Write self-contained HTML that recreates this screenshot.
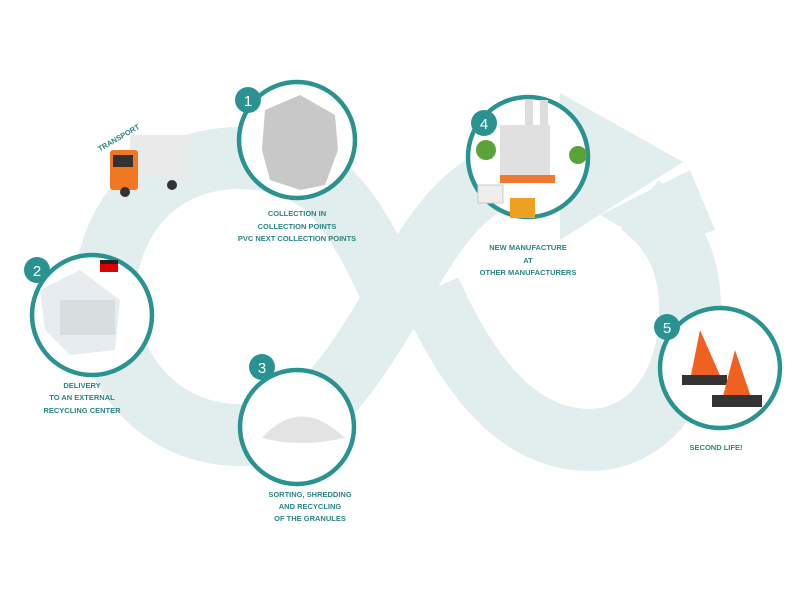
<!DOCTYPE html>
<html><head><meta charset="utf-8"><style>
body{margin:0;background:#fff;}
svg{display:block}
text{font-family:"Liberation Sans",sans-serif;font-size:7.5px;fill:#2a8583;text-anchor:middle;font-weight:bold}
.n{fill:#fff;font-size:15px;font-weight:normal}
</style></head><body>
<svg width="805" height="600" viewBox="0 0 805 600">
<g fill="none" stroke="#e2eded" stroke-width="62">
<path d="M395,300 C350,200 320,160 240,158 C150,158 105,230 105,295 C105,370 160,435 240,435 C310,435 340,390 395,300 C440,220 470,170 560,160"/>
<path d="M640,205 C680,235 690,270 690,310 C690,390 645,440 590,440 C520,440 470,380 430,290"/>
</g>
<polygon points="560,93 683,162 560,240" fill="#e2eded"/>
<polygon points="600,215 690,170 715,230 660,250" fill="#e2eded"/>
<g fill="#fff" stroke="#2a9391" stroke-width="4.5">
<circle cx="297" cy="140" r="58"/>
<circle cx="92" cy="315" r="60"/>
<circle cx="297" cy="427" r="57"/>
<circle cx="528" cy="157" r="60"/>
<circle cx="720" cy="368" r="60"/>
</g>
<path d="M265,110 L300,95 L335,115 L338,150 L325,185 L300,190 L270,180 L262,150 Z" fill="#c8c8c8"/>
<path d="M40,290 L80,270 L120,300 L115,350 L70,355 L45,330Z" fill="#e6ecf0"/>
<rect x="60" y="300" width="55" height="35" fill="#d8dde0"/><rect x="100" y="260" width="18" height="12" fill="#d00"/><rect x="100" y="260" width="18" height="4" fill="#222"/>
<path d="M262,438 Q300,395 345,438 Q300,448 262,438Z" fill="#e4e4e4"/>
<rect x="500" y="125" width="50" height="55" fill="#e0e0e0"/><rect x="500" y="175" width="55" height="8" fill="#f07830"/>
<rect x="525" y="100" width="8" height="25" fill="#ddd"/><rect x="540" y="100" width="8" height="25" fill="#ddd"/>
<circle cx="486" cy="150" r="10" fill="#5aa33a"/><circle cx="578" cy="155" r="9" fill="#5aa33a"/>
<rect x="510" y="198" width="25" height="20" fill="#f0a020"/><rect x="478" y="185" width="25" height="18" fill="#eee" stroke="#ccc"/>
<polygon points="700,330 690,380 722,380" fill="#f06020"/><rect x="682" y="375" width="45" height="10" fill="#333"/>
<polygon points="735,350 722,400 752,400" fill="#f06020"/><rect x="712" y="395" width="50" height="12" fill="#333"/>
<rect x="130" y="135" width="60" height="42" fill="#eaeaea"/><rect x="110" y="150" width="28" height="40" fill="#f07820" rx="3"/>
<rect x="113" y="155" width="20" height="12" fill="#333"/><circle cx="125" cy="192" r="5" fill="#333"/><circle cx="172" cy="185" r="5" fill="#333"/>
<g fill="#2a9391"><circle cx="248" cy="100" r="13"/><circle cx="37" cy="270" r="13"/><circle cx="262" cy="367" r="13"/><circle cx="484" cy="123" r="13"/><circle cx="667" cy="327" r="13"/></g>
<text class="n" x="248" y="106">1</text><text class="n" x="37" y="276">2</text><text class="n" x="262" y="373">3</text><text class="n" x="484" y="129">4</text><text class="n" x="667" y="333">5</text>
<text x="120" y="140" transform="rotate(-30 120 140)">TRANSPORT</text>
<text x="297" y="216">COLLECTION IN</text><text x="297" y="229">COLLECTION POINTS</text><text x="297" y="241">PVC NEXT COLLECTION POINTS</text>
<text x="82" y="388">DELIVERY</text><text x="82" y="400">TO AN EXTERNAL</text><text x="82" y="413">RECYCLING CENTER</text>
<text x="528" y="250">NEW MANUFACTURE</text><text x="528" y="263">AT</text><text x="528" y="275">OTHER MANUFACTURERS</text>
<text x="716" y="450">SECOND LIFE!</text>
<text x="310" y="497">SORTING, SHREDDING</text><text x="310" y="509">AND RECYCLING</text><text x="310" y="521">OF THE GRANULES</text>
</svg>
</body></html>
